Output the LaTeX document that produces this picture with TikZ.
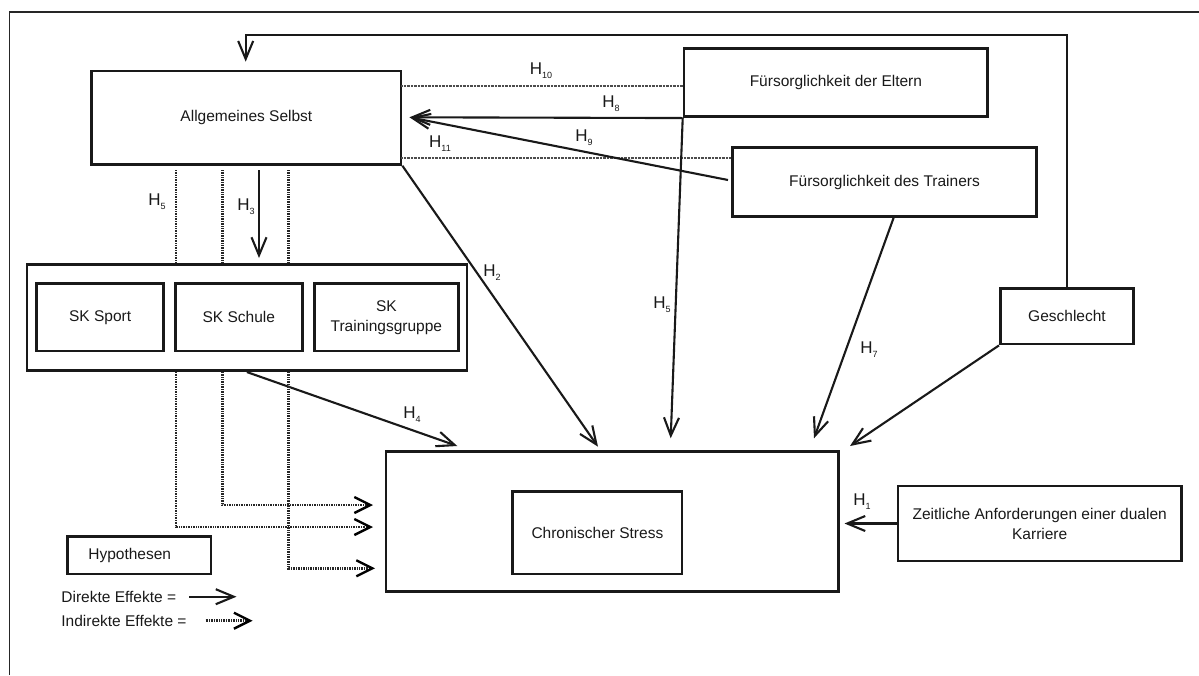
\documentclass[tikz,border=0pt]{standalone}
\usepackage{fontspec}
\setmainfont{Liberation Sans}
\usetikzlibrary{arrows.meta,calc}
\newcommand{\hyp}[1]{{\fontsize{17}{17}\selectfont H}\raisebox{-0.5ex}{\fontsize{9}{9}\selectfont #1}}
\begin{document}
\begin{tikzpicture}[x=1pt,y=-1pt,
  font=\fontsize{15.5}{20}\selectfont, text=black!90,
  box/.style={draw=black!90, line width=2.7pt, inner sep=0pt},
  lbl/.style={inner sep=0pt},
  arr/.style={draw=black!90, line width=2.1pt, -{Straight Barb[length=18pt,width=15pt]}},
  dotl/.style={draw=black!85, line width=2.8pt, dash pattern=on 1pt off 0.7pt},
  dotarr/.style={dotl, -{Straight Barb[length=16pt,width=16pt,line width=2.4pt,color=black]}},
  dotthin/.style={draw=black!70, line width=1.8pt, dash pattern=on 0.8pt off 0.6pt}]
\useasboundingbox (0,0) rectangle (1199,675);
% frame
\coordinate (fr1) at (9.6,675); \coordinate (fr2) at (9.6,12); \coordinate (fr3) at (1199,12);
\draw[line width=1.6pt, black!85] (fr1) -- (fr2) -- (fr3);
% boxes
\node[box, minimum width=309.2pt, minimum height=93.3pt] (selbst) at (246.4,117.7) {Allgemeines Selbst};
\node[box, minimum width=303.7pt, minimum height=68.4pt] (eltern) at (835.9,82.5) {Fürsorglichkeit der Eltern};
\node[box, minimum width=304pt, minimum height=69pt] (trainer) at (884.5,182.2) {Fürsorglichkeit des Trainers};
\node[box, minimum width=440pt, minimum height=106.4pt] (sk) at (246.9,317.5) {};
\node[box, minimum width=127.4pt, minimum height=67.7pt] (sksport) at (100.1,317.2) {SK Sport};
\node[box, minimum width=127pt, minimum height=67.7pt] (skschule) at (238.8,317.2) {SK Schule};
\node[box, minimum width=143.5pt, minimum height=67.7pt, align=center] (sktg) at (386.4,317.2) {SK\\Trainingsgruppe};
\node[box, minimum width=133.3pt, minimum height=55.7pt] (geschlecht) at (1067,316.2) {Geschlecht};
\node[box, minimum width=452.9pt, minimum height=140pt] (stress) at (612.3,521.7) {};
\node[box, minimum width=169.2pt, minimum height=82.3pt] (stressin) at (597.4,532.9) {Chronischer Stress};
\node[box, minimum width=283.4pt, minimum height=75pt, align=center] (zeit) at (1039.7,523.5) {Zeitliche Anforderungen einer dualen\\Karriere};
\node[box, anchor=west, text width=101.9pt, align=left, inner xsep=20.8pt, minimum height=37.3pt] (hyp) at (66.2,555.4) {Hypothesen};
% legend
\node[anchor=west, inner sep=0pt] (direkt) at (61.2,596.7) {Direkte Effekte =};
\coordinate (da) at (189.4,596.7); \coordinate (db) at (236.5,596.7);
\draw[arr] (da) -- (db);
\node[anchor=west, inner sep=0pt] (indirekt) at (61.2,620.7) {Indirekte Effekte =};
\coordinate (ia) at (205.5,620.7); \coordinate (ib) at (252.6,620.7);
\draw[dotarr] (ia) -- (ib);
% feedback from Geschlecht
\coordinate (fbl) at (245.7,35); \coordinate (fbtip) at (245.7,61.7);
\draw[arr] (geschlecht.north) |- (fbl) -- (fbtip);
% H10, H11 dotted
\coordinate (h10a) at (401,85.7);
\draw[dotthin] (h10a) -- (h10a -| eltern.west);
\coordinate (h11a) at (401,158.3);
\draw[dotthin] (h11a) -- (h11a -| trainer.west);
% H8, H9
\coordinate (h8tip) at (409.5,117.3);
\draw[arr] (eltern.south west) -- (h8tip);
\coordinate (h9s) at (728,180);
\draw[arr] (h9s) -- (h8tip);
% H5 from Eltern
\coordinate (h5tip) at (670.7,438.3);
\draw[arr] (eltern.south west) -- (h5tip);
% H7
\coordinate (h7s) at (894,216.7); \coordinate (h7tip) at (814,438.3);
\draw[arr] (h7s) -- (h7tip);
% Geschlecht -> Stress
\coordinate (gtip) at (850,446);
\draw[arr] (geschlecht.south west) -- (gtip);
% H1
\coordinate (h1tip) at (844.5,523.5);
\draw[arr] (zeit.west) -- (h1tip);
% H2
\coordinate (h2tip) at (598,446.7);
\draw[arr] (selbst.south east) -- (h2tip);
% H4
\coordinate (h4tip) at (457.3,446);
\draw[arr] (sk.south) -- (h4tip);
% H3
\coordinate (h3a) at (259,170); \coordinate (h3b) at (259,258);
\draw[arr] (h3a) -- (h3b);
% dotted verticals
\coordinate (d1a) at (176,170); \coordinate (d2a) at (222.3,170); \coordinate (d3a) at (288.2,170);
\draw[dotl] (d1a) -- (d1a |- sk.north);
\draw[dotl] (d2a) -- (d2a |- sk.north);
\draw[dotl] (d3a) -- (d3a |- sk.north);
\coordinate (d1c) at (176,527); \coordinate (d1t) at (373,527);
\coordinate (d2c) at (222.3,505); \coordinate (d2t) at (373,505);
\coordinate (d3c) at (288.2,568.3); \coordinate (d3t) at (375,568.3);
\draw[dotarr] (d1a |- sk.south) -- (d1c) -- (d1t);
\draw[dotarr] (d2a |- sk.south) -- (d2c) -- (d2t);
\draw[dotarr] (d3a |- sk.south) -- (d3c) -- (d3t);
% labels
\node[lbl] (l10) at (541,71) {\hyp{10}};
\node[lbl] (l8) at (611,104) {\hyp{8}};
\node[lbl] (l9) at (584,138) {\hyp{9}};
\node[lbl] (l11) at (440,144) {\hyp{11}};
\node[lbl] (l5a) at (157,202) {\hyp{5}};
\node[lbl] (l3) at (246,207) {\hyp{3}};
\node[lbl] (l2) at (492,273) {\hyp{2}};
\node[lbl] (l4) at (412,415) {\hyp{4}};
\node[lbl] (l5b) at (662,305) {\hyp{5}};
\node[lbl] (l7) at (869,350) {\hyp{7}};
\node[lbl] (l1) at (862,502) {\hyp{1}};
\end{tikzpicture}
\end{document}
